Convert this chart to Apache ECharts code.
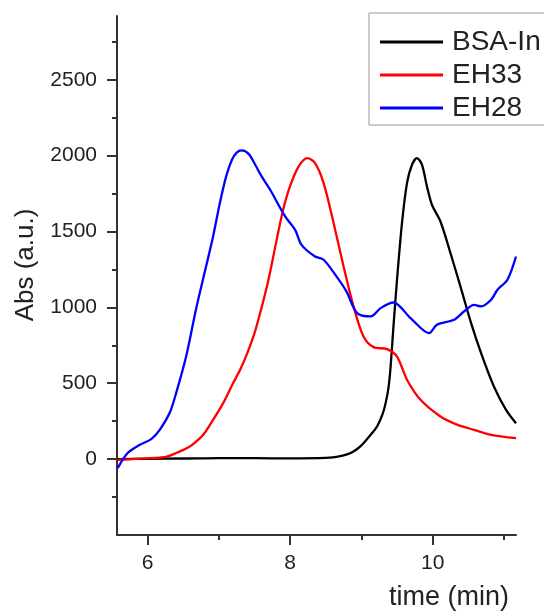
<!DOCTYPE html>
<html>
<head>
<meta charset="utf-8">
<script src="https://cdn.jsdelivr.net/npm/echarts@6/dist/echarts.min.js"></script>
<style>
html,body{margin:0;padding:0;background:#fff;}
#chart{width:544px;height:612px;}
</style>
</head>
<body>
<div id="chart"></div>
<script>
// ---- data (time in min, absorbance in a.u.) ----
const seriesNames = ['BSA-In', 'EH33', 'EH28'];
const bsaIn = [[5.58,0],[6.0,2],[6.5,4],[7.0,7],[7.5,6],[8.0,5],[8.4,6],[8.6,12],[8.75,25],[8.85,40],[8.95,70],[9.03,105],[9.13,160],[9.22,215],[9.30,300],[9.34,369],[9.38,470],[9.41,610],[9.45,874],[9.50,1182],[9.57,1556],[9.64,1819],[9.71,1940],[9.78,1984],[9.85,1940],[9.92,1797],[9.99,1676],[10.11,1566],[10.25,1358],[10.39,1138],[10.54,896],[10.68,699],[10.86,479],[11.03,325],[11.17,237]];
const eh33 = [[5.58,-5],[5.93,5],[6.26,15],[6.40,40],[6.52,65],[6.63,96],[6.78,160],[6.92,260],[7.06,369],[7.20,501],[7.30,590],[7.40,700],[7.50,830],[7.60,1000],[7.70,1190],[7.80,1420],[7.90,1640],[8.0,1800],[8.12,1929],[8.24,1984],[8.35,1951],[8.47,1819],[8.61,1556],[8.75,1269],[8.89,1006],[9.03,808],[9.17,738],[9.36,725],[9.50,676],[9.64,523],[9.83,391],[10.11,281],[10.35,226],[10.58,193],[10.82,160],[11.17,138]];
const eh28 = [[5.58,-59],[5.72,40],[5.89,94],[6.05,132],[6.17,193],[6.31,305],[6.40,435],[6.54,676],[6.68,990],[6.82,1269],[6.92,1470],[7.01,1680],[7.10,1860],[7.18,1970],[7.25,2020],[7.32,2034],[7.42,2010],[7.51,1940],[7.60,1863],[7.72,1775],[7.93,1599],[8.07,1511],[8.16,1412],[8.35,1335],[8.47,1314],[8.65,1204],[8.79,1105],[8.94,962],[9.13,940],[9.27,995],[9.45,1032],[9.69,929],[9.95,830],[10.06,885],[10.30,918],[10.44,973],[10.58,1017],[10.68,1006],[10.82,1050],[10.91,1116],[11.05,1182],[11.17,1335]];
const xMajorTicks = [6, 8, 10];
const xMinorTicks = [7, 9, 11];
const yMajorTicks = [0, 500, 1000, 1500, 2000, 2500];
const yMinorTicks = [-250, 250, 750, 1250, 1750, 2250, 2750];
const xTitle = 'time (min)';
const yTitle = 'Abs (a.u.)';
const colors = ['#000000', '#ff0000', '#0000ff'];

const FONT = 'Liberation Sans, Arial, sans-serif';
const X_MIN = 5.57, X_MAX = 11.17, Y_MIN = -500, Y_MAX = 2920;
const axisLineStyle = {color: '#333', width: 2};

const chart = echarts.init(document.getElementById('chart'), null, {renderer: 'canvas'});

function xAxisDef(ticks, major) {
  return {
    type: 'value', min: X_MIN, max: X_MAX, position: 'bottom',
    axisLine: {show: major, onZero: false, lineStyle: axisLineStyle},
    axisTick: {show: true, inside: false, length: major ? 10 : 5, customValues: ticks, lineStyle: {color: '#333', width: 2}},
    axisLabel: {show: major, customValues: ticks, margin: 18, color: '#222', fontSize: 21, fontFamily: FONT,
                formatter: v => String(v)},
    splitLine: {show: false}
  };
}
function yAxisDef(ticks, major) {
  return {
    type: 'value', min: Y_MIN, max: Y_MAX, position: 'left',
    axisLine: {show: major, onZero: false, lineStyle: axisLineStyle},
    axisTick: {show: true, inside: false, length: major ? 10 : 5, customValues: ticks, lineStyle: {color: '#333', width: 2}},
    axisLabel: {show: major, customValues: ticks, margin: 20, color: '#222', fontSize: 21, fontFamily: FONT,
                formatter: v => String(v)},
    splitLine: {show: false}
  };
}

const datasets = [bsaIn, eh33, eh28];

chart.setOption({
  animation: false,
  backgroundColor: '#fff',
  grid: {left: 117, right: 28, top: 16, bottom: 77, containLabel: false},
  xAxis: [xAxisDef(xMajorTicks, true), xAxisDef(xMinorTicks, false)],
  yAxis: [yAxisDef(yMajorTicks, true), yAxisDef(yMinorTicks, false)],
  legend: {
    orient: 'vertical', left: 369, top: 13,
    data: seriesNames,
    icon: 'rect', itemWidth: 63, itemHeight: 3, itemGap: 5,
    padding: [15, 40, 3, 11],
    borderColor: '#999', borderWidth: 1,
    textStyle: {fontSize: 28, fontFamily: FONT, color: '#222', lineHeight: 28, padding: [0, 0, 0, 4]}
  },
  graphic: [
    {type: 'text', x: 26, y: 265, rotation: Math.PI / 2,
     style: {text: yTitle, font: '26px ' + FONT, fill: '#222', align: 'center', verticalAlign: 'middle'}},
    {type: 'text', x: 449, y: 598,
     style: {text: xTitle, font: '27px ' + FONT, fill: '#222', align: 'center', verticalAlign: 'middle'}}
  ],
  series: seriesNames.map((name, i) => ({
    name: name, type: 'line', data: datasets[i],
    xAxisIndex: 0, yAxisIndex: 0,
    showSymbol: false, symbol: 'none', smooth: 0.3, clip: true,
    lineStyle: {color: colors[i], width: 2.3},
    itemStyle: {color: colors[i]}
  }))
});
</script>
</body>
</html>
